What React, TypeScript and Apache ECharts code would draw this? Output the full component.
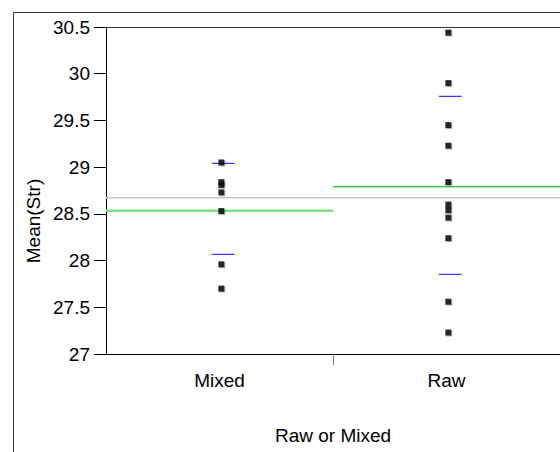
import React, { useEffect, useRef } from "react";
import * as echarts from "echarts";

const categories = ["Mixed", "Raw"];
const yTickValues = [27, 27.5, 28, 28.5, 29, 29.5, 30, 30.5];

const mixedPoints = [29.05, 28.84, 28.81, 28.73, 28.53, 27.96, 27.7];
const rawPoints = [30.44, 29.9, 29.45, 29.23, 28.84, 28.6, 28.54, 28.46, 28.24, 27.56, 27.23];

const grandMean = 28.673;
const groupMeans = [28.534, 28.79];
const sdUpper = [29.04, 29.758];
const sdLower = [28.067, 27.853];

// layout constants
const POINT_SHIFT = 0.008;
const SD_SHIFT = 0.016;
const SD_HALF = 0.05;
const FONT = "Liberation Sans, Arial, Helvetica, sans-serif";
const FS = 19;

export default function App() {
  const ref = useRef<HTMLDivElement>(null);
  useEffect(() => {
    if (!ref.current) return;
    const chart = echarts.init(ref.current, null, { renderer: "svg" });
    const groups = [mixedPoints, rawPoints];
    const pointData: number[][] = [];
    groups.forEach((pts, gi) => pts.forEach((v) => pointData.push([gi + 0.5 + POINT_SHIFT, v])));

    const sdSeries: any[] = [];
    categories.forEach((_, gi) => {
      [sdUpper[gi], sdLower[gi]].forEach((v) => {
        const c = gi + 0.5 + SD_SHIFT;
        sdSeries.push({
          type: "line",
          data: [[c - SD_HALF, v], [c + SD_HALF, v]],
          symbol: "none",
          lineStyle: { color: "#3c3cff", width: 1.2 },
          z: 3,
          silent: true,
        });
      });
    });

    const meanColors = ["#7ee27e", "#44cc44"];
    const meanWidths = [2.5, 1.5];
    const meanSeries = categories.map((_, gi) => ({
      type: "line",
      data: [[gi, groupMeans[gi]], [gi + 1, groupMeans[gi]]],
      symbol: "none",
      lineStyle: { color: meanColors[gi], width: meanWidths[gi] },
      z: 2,
      silent: true,
    }));

    chart.setOption({
      animation: false,
      textStyle: { fontFamily: FONT },
      grid: {
        left: 106,
        top: 27,
        right: 0,
        bottom: 98,
        show: false,
      },
      graphic: [
        {
          type: "rect",
          shape: { x: 13.5, y: 12.5, width: 700, height: 600 },
          style: { fill: "none", stroke: "#333", lineWidth: 1 },
          silent: true,
        },
        {
          type: "line",
          shape: { x1: 106, y1: 27.5, x2: 560, y2: 27.5 },
          style: { stroke: "#333", lineWidth: 1 },
          silent: true,
        },
        {
          type: "text",
          x: 33,
          y: 221,
          rotation: Math.PI / 2,
          style: {
            text: "Mean(Str)",
            font: `${FS}px ${FONT}`,
            fill: "#000",
            align: "center",
            verticalAlign: "middle",
          },
        },
      ],
      xAxis: {
        type: "value",
        min: 0,
        max: 2,
        interval: 1,
        splitLine: { show: false },
        axisLine: { show: true, lineStyle: { color: "#000", width: 1 } },
        axisTick: { show: true, customValues: [1], length: 11, lineStyle: { color: "#777" } },
        axisLabel: {
          customValues: [0.5, 1.5],
          formatter: (v: number) => categories[Math.round(v - 0.5)] ?? "",
          color: "#000",
          fontSize: FS,
          fontFamily: FONT,
          margin: 17,
        },
        name: "Raw or Mixed",
        nameLocation: "middle",
        nameGap: 72,
        nameTextStyle: { color: "#000", fontSize: FS, fontFamily: FONT },
      },
      yAxis: {
        type: "value",
        min: yTickValues[0],
        max: yTickValues[yTickValues.length - 1],
        interval: 0.5,
        splitLine: { show: false },
        axisLine: { show: true, lineStyle: { color: "#000", width: 1 } },
        axisTick: { show: true, length: 12, lineStyle: { color: "#000" } },
        axisLabel: { color: "#000", fontSize: FS, fontFamily: FONT, margin: 16 },
      },
      series: [
        {
          type: "line",
          data: [[0, grandMean], [2, grandMean]],
          symbol: "none",
          lineStyle: { color: "#c8c8c8", width: 1.5 },
          z: 1,
          silent: true,
        },
        ...meanSeries,
        ...sdSeries,
        {
          type: "scatter",
          data: pointData,
          symbol: "rect",
          symbolSize: 6,
          itemStyle: {
            color: "#000",
            shadowColor: "rgba(0,0,0,0.35)",
            shadowOffsetX: 1,
            shadowOffsetY: 1,
            shadowBlur: 0,
          },
          z: 4,
          silent: true,
        },
      ],
    });
    return () => chart.dispose();
  }, []);
  return (
    <div
      ref={ref}
      style={{ position: "fixed", left: 0, top: 0, width: 560, height: 452, background: "#fff" }}
    />
  );
}
